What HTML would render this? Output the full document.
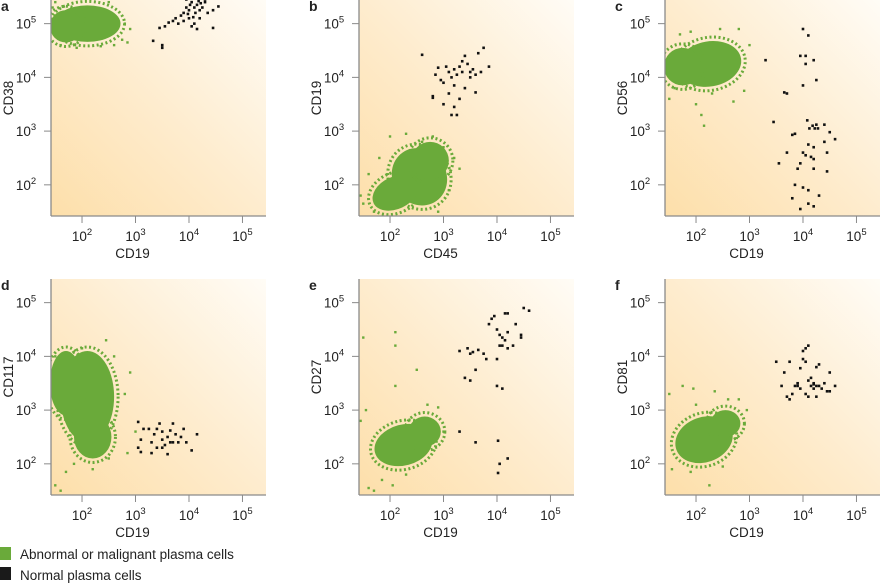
<!DOCTYPE html>
<html><head><meta charset="utf-8"><style>
body{margin:0;background:#fff;width:880px;height:583px;overflow:hidden;font-family:"Liberation Sans",sans-serif}
svg{display:block}
text{font-family:"Liberation Sans",sans-serif;fill:#222}
</style></head><body>
<svg id="fig" width="880" height="583">
<defs>
<linearGradient id="bg" x1="0" y1="1" x2="1" y2="0">
<stop offset="0" stop-color="#fddfaa"/><stop offset="0.5" stop-color="#feecce"/><stop offset="1" stop-color="#fffcf6"/>
</linearGradient>
</defs>
<g>
<rect x="0" y="547" width="11" height="13" fill="#6aaa3a"/>
<text x="20" y="559" font-size="13.5">Abnormal or malignant plasma cells</text>
<rect x="0" y="567" width="11" height="13" fill="#1a1a1a"/>
<text x="20" y="580" font-size="13.5">Normal plasma cells</text>
</g>
</svg>
<script>
// panel metadata
const panelLetters=['a','b','c','d','e','f'];
const xTitles=['CD19','CD45','CD19','CD19','CD19','CD19'];
const yTitles=['CD38','CD19','CD56','CD117','CD27','CD81'];
const tickExps=[2,3,4,5];
// green core blobs: [cx, cy, rx, ry, rotationDeg] in log10 units
const greenCores=[
 [[2.1,5.0,0.62,0.34,0],[1.7,4.95,0.3,0.3,0]],
 [[2.55,2.15,0.5,0.55,-35],[2.1,1.85,0.45,0.3,-25],[2.75,2.45,0.35,0.35,0]],
 [[2.25,4.25,0.6,0.42,-10],[1.75,4.2,0.35,0.35,0]],
 [[2.1,3.25,0.5,0.85,0],[2.2,2.5,0.35,0.4,0],[1.7,3.5,0.3,0.6,0]],
 [[2.25,2.35,0.55,0.38,-15],[2.65,2.6,0.3,0.28,0]],
 [[2.15,2.45,0.55,0.42,-20],[2.55,2.75,0.28,0.25,0]]
];
// green scattered points (log10 x, log10 y)
const greenPts=[
 [[1.5,5.4],[1.6,4.6],[2.9,4.9],[2.75,4.7],[2.6,4.6],[1.45,5.3],[2.8,5.0],[2.5,5.4],[1.9,4.55],[2.35,4.58],[2.85,4.65],[1.55,4.8]],
 [[1.45,1.8],[1.5,1.65],[1.6,2.2],[1.7,1.5],[2.0,2.9],[2.3,2.95],[2.8,2.9],[3.2,2.5],[3.3,2.3],[3.1,1.9],[2.9,1.5],[1.8,2.5],[2.6,2.8],[3.0,2.7]],
 [[1.5,3.6],[1.7,4.8],[1.9,4.85],[2.1,3.3],[2.15,3.1],[3.0,4.6],[2.8,4.9],[2.9,3.75],[2.7,3.55],[2.45,4.9],[1.6,3.8],[2.3,3.7],[2.0,3.5]],
 [[1.5,1.6],[1.6,1.5],[1.7,1.85],[1.85,2.0],[2.2,1.9],[2.45,4.3],[2.9,3.7],[2.8,3.3],[3.0,2.6],[2.85,2.2],[2.5,2.1],[2.0,4.15],[1.5,4.0],[2.6,4.0]],
 [[1.5,4.35],[2.1,4.45],[2.1,4.2],[2.5,3.75],[2.1,3.45],[1.55,3.0],[2.9,3.05],[2.7,3.1],[3.0,2.6],[1.7,1.5],[1.6,1.55],[1.85,1.7],[2.05,1.6],[2.3,1.8],[1.45,2.8]],
 [[1.5,3.3],[1.75,3.45],[1.95,3.4],[2.35,3.35],[2.8,3.2],[2.95,3.0],[2.5,1.95],[2.25,1.6],[1.9,1.85],[1.55,1.9],[2.0,3.1],[2.6,3.2]]
];
// normal plasma cell points (log10 x, log10 y)
const blackPts=[
 [[3.33,4.68],[3.5,4.6],[3.5,4.55],[3.45,4.92],[3.55,4.95],[3.62,5.02],[3.7,5.05],[3.75,5.1],[3.8,5.0],[3.85,5.15],[3.9,5.2],[3.95,5.3],[4.0,5.25],[4.02,5.35],[4.05,5.4],[4.1,5.3],[4.12,5.2],[4.15,5.35],[4.18,5.42],[4.2,5.1],[4.25,5.3],[4.3,5.4],[4.35,5.2],[4.1,5.0],[4.05,4.95],[4.0,5.1],[4.2,5.25],[3.9,5.05],[4.45,5.25],[4.55,5.32],[4.45,4.92],[4.15,4.9],[4.3,5.45],[3.95,5.45],[4.08,5.12],[3.98,5.18],[4.22,5.38]],
 [[2.6,4.42],[2.85,4.05],[2.9,4.18],[2.95,3.95],[3.0,3.9],[3.05,4.2],[3.1,4.1],[3.1,3.7],[3.15,4.0],[3.2,4.15],[3.2,3.45],[3.25,4.05],[3.3,4.2],[3.3,3.6],[3.35,4.3],[3.35,4.1],[3.4,4.4],[3.4,3.8],[3.45,4.25],[3.5,4.1],[3.5,4.0],[3.55,4.15],[3.6,3.72],[3.6,4.05],[3.65,4.45],[3.7,4.1],[3.75,4.55],[3.85,4.2],[2.8,3.65],[2.8,3.62],[3.25,3.3],[3.2,3.85],[3.0,3.5],[3.15,3.3]],
 [[3.3,4.32],[3.65,3.72],[3.7,3.7],[3.45,3.17],[3.8,2.93],[3.85,2.95],[3.7,2.6],[3.55,2.4],[3.9,2.3],[4.0,4.9],[4.1,4.78],[3.95,4.4],[4.05,4.4],[4.2,4.32],[4.05,4.25],[4.25,3.95],[4.0,3.85],[4.08,3.2],[4.12,3.05],[4.18,3.1],[4.22,3.05],[4.28,3.05],[4.25,3.12],[4.4,3.12],[4.5,2.98],[4.6,2.85],[4.1,2.75],[4.2,2.7],[4.4,2.8],[4.0,2.6],[4.05,2.55],[4.15,2.52],[4.2,2.48],[4.45,2.6],[3.95,2.4],[4.2,2.3],[4.45,2.25],[4.0,1.95],[4.1,1.9],[4.3,1.8],[3.8,1.75],[4.1,1.65],[4.2,1.6],[3.95,1.55],[3.85,2.0]],
 [[3.05,2.78],[3.15,2.65],[3.25,2.65],[3.1,2.45],[3.05,2.3],[3.1,2.22],[3.3,2.4],[3.35,2.55],[3.4,2.65],[3.45,2.75],[3.5,2.6],[3.5,2.45],[3.55,2.35],[3.6,2.5],[3.65,2.62],[3.7,2.4],[3.75,2.55],[3.4,2.3],[3.6,2.18],[3.3,2.2],[3.8,2.4],[3.85,2.5],[3.9,2.65],[3.95,2.4],[3.7,2.75],[4.15,2.55],[4.05,2.25],[3.5,2.3],[3.65,2.4]],
 [[3.3,4.1],[3.45,4.15],[3.5,4.05],[3.55,4.08],[3.65,4.12],[3.75,4.05],[3.8,3.95],[3.6,3.75],[3.4,3.6],[3.5,3.55],[3.85,4.6],[3.9,4.7],[3.95,4.75],[4.0,4.5],[4.05,4.4],[4.1,4.2],[4.1,4.35],[4.15,4.3],[4.2,4.45],[4.15,4.8],[4.2,4.8],[4.3,4.2],[4.35,4.6],[4.45,4.35],[4.45,4.4],[4.5,4.9],[4.6,4.85],[4.05,4.2],[4.0,3.95],[4.2,4.15],[4.0,3.45],[4.1,3.4],[3.3,2.6],[3.6,2.4],[4.02,2.43],[4.05,2.0],[4.2,2.1],[4.02,1.83]],
 [[3.5,3.9],[3.65,3.7],[3.75,3.9],[3.85,3.45],[3.9,3.45],[3.95,3.4],[3.8,3.3],[3.75,3.2],[3.95,3.78],[4.0,3.95],[4.0,4.1],[4.05,4.15],[4.1,4.2],[4.05,3.9],[4.1,3.55],[4.15,3.6],[4.15,3.45],[4.2,3.5],[4.2,3.4],[4.25,3.45],[4.25,3.8],[4.3,3.85],[4.3,3.45],[4.35,3.4],[4.4,3.5],[4.45,3.35],[4.5,3.7],[4.5,3.35],[4.6,3.45],[4.05,3.3],[4.1,3.25],[4.25,3.25],[3.9,3.5],[4.2,3.48],[3.7,3.25],[3.6,3.45]]
];
const NS='http://www.w3.org/2000/svg';
const svg=document.getElementById('fig');
const colLeft=[51,359,665], rowTop=[0,279], W=215, H=216;
const DOMAIN=[1.42,5.44];
function mk(tag,attrs,parent){const e=document.createElementNS(NS,tag);for(const k in attrs)e.setAttribute(k,attrs[k]);parent.appendChild(e);return e;}
panelLetters.forEach((letter,i)=>{
 const L=colLeft[i%3], T=rowTop[Math.floor(i/3)];
 const span=DOMAIN[1]-DOMAIN[0];
 const sx=v=>L+(v-DOMAIN[0])/span*W;
 const sy=v=>T+H-(v-DOMAIN[0])/span*H;
 const g=mk('g',{},svg);
 
 
 const cid='clip'+i;
 const cp=mk('clipPath',{id:cid},g); mk('rect',{x:L,y:T,width:W,height:H},cp);
 const bg=mk('rect',{x:L,y:T,width:W,height:H,fill:'url(#bg)'},g);
 
 
 const data=mk('g',{'clip-path':'url(#'+cid+')'},g);
 greenCores[i].forEach(c=>{
  const cx=sx(c[0]), cy=sy(c[1]), rx=c[2]/span*W, ry=c[3]/span*H, tr='rotate('+c[4]+' '+cx+' '+cy+')';
  const halo=mk('ellipse',{cx:cx,cy:cy,rx:rx+4,ry:ry+4,fill:'none',stroke:'#6aaa3a','stroke-width':3,'stroke-dasharray':'2 2.5',transform:tr},data);
  
  
  const el=mk('ellipse',{cx:cx,cy:cy,rx:rx,ry:ry,fill:'#6aaa3a',transform:tr},data);
  
  
 });
 greenPts[i].forEach(p=>{
  const el=mk('rect',{x:sx(p[0])-1.2,y:sy(p[1])-1.2,width:2.4,height:2.4,fill:'#6aaa3a'},data);
  
  
 });
 blackPts[i].forEach(p=>{
  const el=mk('rect',{x:sx(p[0])-1.3,y:sy(p[1])-1.3,width:2.6,height:2.6,fill:'#111'},data);
  
  
 });
 mk('line',{x1:L,y1:T,x2:L,y2:T+H,stroke:'#8a8a8a','stroke-width':1.3},g);
 mk('line',{x1:L,y1:T+H,x2:L+W,y2:T+H,stroke:'#8a8a8a','stroke-width':1.3},g);
 tickExps.forEach(e=>{
  const x=sx(e), y=sy(e);
  mk('line',{x1:x,y1:T+H,x2:x,y2:T+H+7,stroke:'#8a8a8a','stroke-width':1},g);
  mk('line',{x1:L-7,y1:y,x2:L,y2:y,stroke:'#8a8a8a','stroke-width':1},g);
  const xt=mk('text',{x:x,y:T+H+25,'font-size':13.5,'text-anchor':'middle'},g);
  
  
  xt.innerHTML='10<tspan font-size="9.5" dy="-6">'+e+'</tspan>';
  const yt=mk('text',{x:L-25,y:y+5,'font-size':13.5,'text-anchor':'middle'},g);
  
  
  yt.innerHTML='10<tspan font-size="9.5" dy="-6">'+e+'</tspan>';
 });
 const xtit=mk('text',{x:L+W/2-26,y:T+H+42,'font-size':13.5,'text-anchor':'middle'},g);
 
 
 xtit.textContent=xTitles[i];
 const ytx=L-38, yty=T+H/2-10;
 const ytit=mk('text',{x:ytx,y:yty,'font-size':13.5,'text-anchor':'middle',transform:'rotate(-90 '+ytx+' '+yty+')'},g);
 
 
 ytit.textContent=yTitles[i];
 const lt=mk('text',{x:L-50,y:T+11,'font-size':14,'font-weight':'bold'},g);
 
 
 lt.textContent=letter;
});
</script>
</body></html>
